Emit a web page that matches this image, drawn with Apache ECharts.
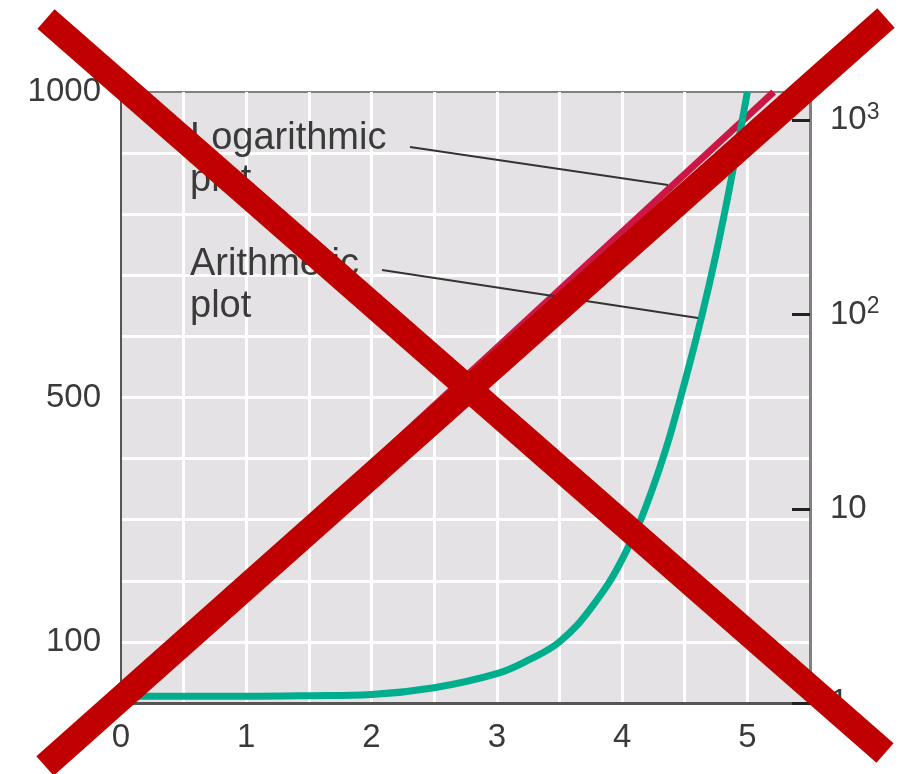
<!DOCTYPE html>
<html>
<head>
<meta charset="utf-8">
<style>
  html, body { margin: 0; padding: 0; background: #fff; }
  #chart { width: 899px; height: 774px; }
</style>
<script src="https://cdn.jsdelivr.net/npm/echarts@6/dist/echarts.min.js"></script>
</head>
<body>
<div id="chart"></div>
<script>
// arithmetic plot (left, linear axis)
var arithX = [0, 0.5, 1, 1.5, 2, 2.5, 3, 3.25, 3.5, 3.75, 4, 4.25, 4.5, 4.75, 5.0];
var arithY = [11, 11, 11, 12, 14, 25, 48, 70, 100, 155, 235, 355, 525, 735, 1000];
// logarithmic plot (right, log axis)
var logX = [0, 5.21];
var logY = [1.1, 1400];
// tick labels
var xLabels = [0, 1, 2, 3, 4, 5];
var leftLabels = [100, 500, 1000];
var rightTicks = [1, 10, 100, 1000];

var FONT = 'Liberation Sans, Arial, Helvetica, sans-serif';
var TEXT = '#3a3a3a';

function pairs(xs, ys) {
  return xs.map(function (x, i) { return [x, ys[i]]; });
}

var chart = echarts.init(document.getElementById('chart'), null, { renderer: 'canvas' });

var option = {
  animation: false,
  backgroundColor: '#fff',
  grid: {
    left: 121, top: 92, right: 89, bottom: 71,
    show: true,
    backgroundColor: '#e4e2e5',
    borderColor: '#808080',
    borderWidth: 2
  },
  xAxis: {
    type: 'value',
    min: 0, max: 5.5, interval: 0.5,
    axisLine: { show: true, lineStyle: { color: '#555', width: 3 } },
    axisTick: { show: false },
    axisLabel: {
      margin: 18,
      fontSize: 33, fontFamily: FONT, color: TEXT,
      formatter: function (v) { return xLabels.indexOf(v) >= 0 ? String(v) : ''; }
    },
    splitLine: { show: true, showMinLine: false, showMaxLine: false, lineStyle: { color: '#fff', width: 3 } }
  },
  yAxis: [
    {
      type: 'value',
      min: 0, max: 1000, interval: 100,
      axisLine: { show: true, lineStyle: { color: '#555', width: 2 } },
      axisTick: { show: false },
      axisLabel: {
        margin: 20,
        fontSize: 33, fontFamily: FONT, color: TEXT,
        formatter: function (v) { return leftLabels.indexOf(v) >= 0 ? String(v) : ''; }
      },
      splitLine: { show: true, showMinLine: false, showMaxLine: false, lineStyle: { color: '#fff', width: 3 } }
    },
    {
      type: 'log',
      logBase: 10,
      min: 1, max: 1400,
      position: 'right',
      axisLine: { show: true, lineStyle: { color: '#808080', width: 3 } },
      axisTick: {
        show: true, inside: true, length: 18,
        customValues: rightTicks,
        lineStyle: { color: '#222', width: 3 }
      },
      axisLabel: {
        margin: 20,
        customValues: rightTicks,
        fontSize: 33, fontFamily: FONT, color: TEXT,
        formatter: function (v) {
          if (v === 1000) return '{n|10}{s|3}';
          if (v === 100) return '{n|10}{s|2}';
          return '{n|' + v + '}';
        },
        rich: {
          n: { fontSize: 33, fontFamily: FONT, color: TEXT, lineHeight: 38 },
          s: { fontSize: 23, fontFamily: FONT, color: TEXT, lineHeight: 24, verticalAlign: 'top' }
        }
      },
      splitLine: { show: false }
    }
  ],
  series: [
    {
      name: 'Logarithmic plot',
      type: 'line',
      yAxisIndex: 1,
      data: pairs(logX, logY),
      showSymbol: false,
      lineStyle: { color: '#cc1744', width: 7 },
      z: 3
    },
    {
      name: 'Arithmetic plot',
      type: 'line',
      yAxisIndex: 0,
      data: pairs(arithX, arithY),
      smooth: 0.4,
      showSymbol: false,
      lineStyle: { color: '#00ad8c', width: 7 },
      z: 4
    }
  ],
  graphic: [
    {
      type: 'text', left: 190, top: 118, z: 50,
      style: { text: 'Logarithmic\nplot', font: '38px ' + FONT, fill: TEXT, lineHeight: 42 }
    },
    {
      type: 'text', left: 190, top: 244, z: 50,
      style: { text: 'Arithmetic\nplot', font: '38px ' + FONT, fill: TEXT, lineHeight: 42 }
    },
    {
      type: 'line', z: 50,
      shape: { x1: 410, y1: 147, x2: 668, y2: 185 },
      style: { stroke: '#333', lineWidth: 2 }
    },
    {
      type: 'line', z: 50,
      shape: { x1: 382, y1: 270, x2: 698, y2: 318 },
      style: { stroke: '#333', lineWidth: 2 }
    },
    {
      type: 'line', z: 100,
      shape: { x1: 46, y1: 19, x2: 885, y2: 753 },
      style: { stroke: '#c00000', lineWidth: 26, lineCap: 'butt' }
    },
    {
      type: 'line', z: 100,
      shape: { x1: 45, y1: 766, x2: 886, y2: 18 },
      style: { stroke: '#c00000', lineWidth: 26, lineCap: 'butt' }
    }
  ]
};

chart.setOption(option);
</script>
</body>
</html>
